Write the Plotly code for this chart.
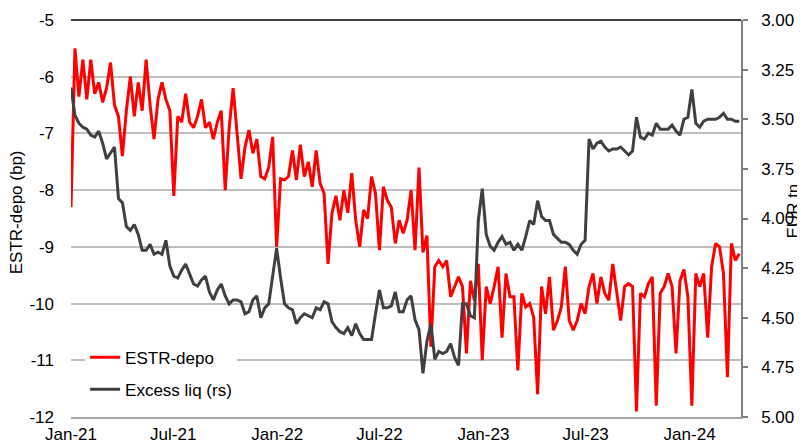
import pandas as pd
import plotly.graph_objects as go

# Weekly observations starting 1 Jan 2021
start_date = "2021-01-01"
n_weeks = 170
dates = pd.date_range(start_date, periods=n_weeks, freq="7D")

# ESTR minus depo rate, bp (left axis)
estr_depo = [
    -8.3, -5.5, -6.35, -5.7, -6.4, -5.7, -6.3, -6.1, -6.45, -6.2,
    -5.75, -6.5, -6.7, -7.4, -6.6, -6.0, -6.7, -6.1, -6.6, -5.7,
    -6.5, -7.1, -6.4, -6.1, -6.4, -6.6, -8.1, -6.7, -6.8, -6.3,
    -6.8, -6.9, -6.7, -6.4, -6.9, -6.8, -7.1, -6.8, -6.6, -8.0,
    -6.9, -6.2, -7.0, -7.8, -7.24, -6.94, -7.35, -7.1, -7.76, -7.8,
    -7.6, -7.06, -9.0, -7.8, -7.82, -7.76, -7.3, -7.82, -7.2, -7.76,
    -7.5, -7.94, -7.3, -7.88, -8.06, -9.3, -8.4, -8.1, -8.53, -8.0,
    -8.4, -7.7, -8.53, -9.0, -8.35, -8.5, -7.76, -8.06, -9.06, -7.94,
    -8.18, -8.3, -8.94, -8.53, -8.76, -8.53, -8.0, -9.06, -7.6, -9.1,
    -8.8, -10.76, -9.35, -9.24, -9.35, -9.24, -9.88, -9.7, -9.53, -9.7,
    -10.88, -9.6, -9.94, -9.3, -11.0, -9.7, -10.0, -9.7, -9.35, -10.6,
    -9.47, -9.88, -9.88, -11.18, -9.82, -10.06, -10.0, -10.24, -11.6, -9.7,
    -10.18, -9.53, -10.47, -10.3, -10.06, -9.35, -10.3, -10.47, -10.3, -10.0,
    -10.18, -9.7, -9.47, -10.0, -9.53, -9.82, -9.94, -9.3, -9.82, -10.3,
    -9.7, -9.65, -9.7, -11.9, -9.82, -9.88, -9.65, -9.53, -11.8, -9.82,
    -9.7, -9.47, -9.7, -10.88, -9.6, -9.4, -9.88, -11.8, -9.47, -9.7,
    -9.47, -10.6, -9.35, -8.94, -9.0, -9.47, -11.3, -8.94, -9.24, -9.12,
]

# Excess liquidity, EUR tn (right axis, inverted)
excess_liq = [
    3.34, 3.48, 3.52, 3.54, 3.55, 3.58, 3.59, 3.56, 3.62, 3.70,
    3.67, 3.64, 3.90, 3.92, 4.04, 4.06, 4.03, 4.08, 4.16, 4.16,
    4.13, 4.18, 4.17, 4.18, 4.11, 4.24, 4.29, 4.30, 4.26, 4.23,
    4.28, 4.33, 4.34, 4.31, 4.29, 4.37, 4.41, 4.36, 4.33, 4.39,
    4.43, 4.41, 4.41, 4.42, 4.48, 4.47, 4.41, 4.39, 4.50, 4.45,
    4.43, 4.29, 4.15, 4.30, 4.43, 4.45, 4.46, 4.53, 4.50, 4.48,
    4.49, 4.50, 4.45, 4.46, 4.42, 4.43, 4.52, 4.55, 4.57, 4.58,
    4.55, 4.59, 4.53, 4.58, 4.61, 4.61, 4.61, 4.48, 4.36, 4.45,
    4.45, 4.44, 4.37, 4.47, 4.47, 4.41, 4.39, 4.51, 4.56, 4.78,
    4.62, 4.53, 4.71, 4.67, 4.68, 4.67, 4.63, 4.70, 4.74, 4.43,
    4.43, 4.49, 4.50, 4.01, 3.85, 4.08, 4.14, 4.16, 4.12, 4.09,
    4.13, 4.12, 4.16, 4.13, 4.16, 4.09, 4.01, 4.03, 3.91, 3.99,
    4.01, 4.01, 4.08, 4.10, 4.12, 4.12, 4.13, 4.16, 4.18, 4.13,
    4.11, 3.60, 3.65, 3.62, 3.61, 3.64, 3.66, 3.65, 3.65, 3.64,
    3.66, 3.68, 3.66, 3.49, 3.59, 3.60, 3.57, 3.58, 3.52, 3.55,
    3.55, 3.55, 3.53, 3.56, 3.58, 3.50, 3.49, 3.35, 3.52, 3.54,
    3.51, 3.50, 3.50, 3.50, 3.49, 3.47, 3.50, 3.50, 3.51, 3.51,
]

# Left-axis ticks (with plain hyphens as in the original)
left_tickvals = [-12, -11, -10, -9, -8, -7, -6, -5]
left_ticktext = ["-12", "-11", "-10", "-9", "-8", "-7", "-6", "-5"]

FONT = "Liberation Sans, Arial, sans-serif"

fig = go.Figure()
fig.add_trace(go.Scatter(
    x=dates, y=estr_depo, name="ESTR-depo", mode="lines",
    line=dict(color="#FF0000", width=3), legendgroup="a",
))
fig.add_trace(go.Scatter(
    x=dates, y=excess_liq, name="Excess liq (rs)", mode="lines",
    line=dict(color="#404040", width=3), yaxis="y2", legendgroup="b",
))

# the page adds an 8px body margin, so the figure is sized 8px smaller
fig.update_layout(
    width=797, height=437,
    margin=dict(l=63, r=64, t=12, b=28, autoexpand=False),
    paper_bgcolor="white", plot_bgcolor="white",
    font=dict(family=FONT, size=17, color="black"),
    showlegend=True,
    legend=dict(
        x=0.021, xanchor="left", y=0.195, yanchor="top",
        bgcolor="white", traceorder="grouped", tracegroupgap=7,
        font=dict(size=17), borderwidth=0,
    ),
    xaxis=dict(
        type="date", range=["2021-01-01", "2024-04-01"],
        tickformat="%b-%y", dtick="M6", tick0="2021-01-01",
        showgrid=False, showline=True, linecolor="#A6A6A6", linewidth=1.5,
        ticks="", zeroline=False, ticklabelstandoff=1, automargin=False,
    ),
    yaxis=dict(
        range=[-12, -5], tickmode="array", tickvals=left_tickvals, ticktext=left_ticktext,
        showgrid=True, gridcolor="#BFBFBF", gridwidth=1.5,
        showline=False, zeroline=False, ticks="", ticklabelstandoff=16,
        automargin=False,
    ),
    yaxis2=dict(
        overlaying="y", side="right", range=[5, 3], dtick=0.25, tick0=3,
        tickformat=".2f", showgrid=False, zeroline=False,
        showline=True, linecolor="#808080", linewidth=1.5,
        ticks="outside", ticklen=5, tickcolor="#808080", tickwidth=1.5,
        ticklabelstandoff=10, automargin=False,
    ),
    shapes=[dict(type="line", xref="paper", yref="paper", x0=0, x1=1, y0=1, y1=1,
                 line=dict(color="black", width=1.5))],
    annotations=[
        dict(text="ESTR-depo (bp)", xref="paper", yref="paper", x=-0.081, y=0.515,
             xanchor="center", yanchor="middle", textangle=-90, showarrow=False,
             font=dict(size=17)),
        dict(text="EUR tn", xref="paper", yref="paper", x=1.079, y=0.52,
             xanchor="center", yanchor="middle", textangle=-90, showarrow=False,
             font=dict(size=17)),
    ],
)

fig.write_html("out.html")
